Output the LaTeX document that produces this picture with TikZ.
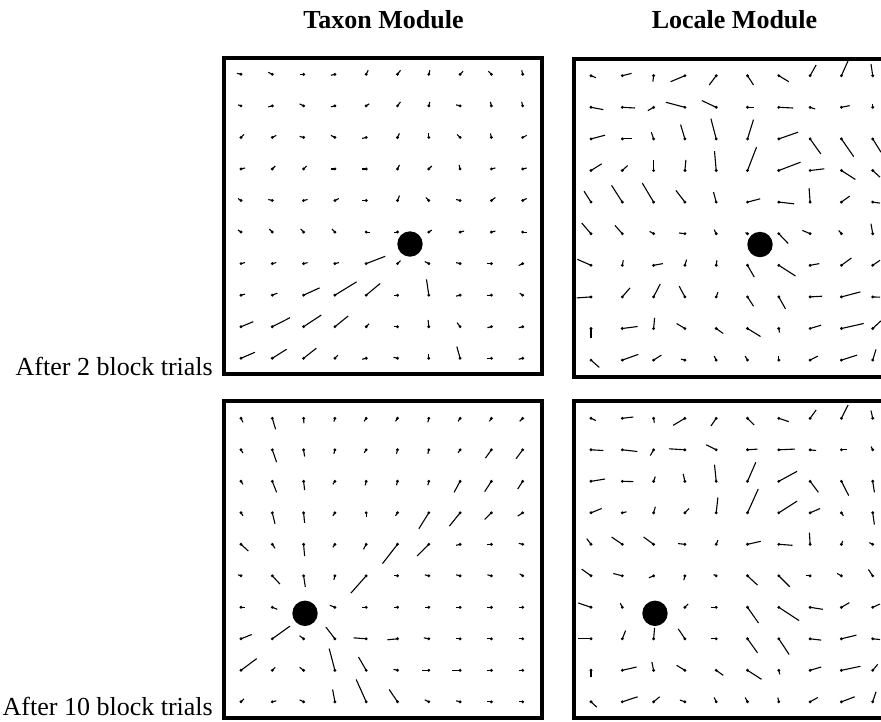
\documentclass[tikz,border=0pt]{standalone}
\usepackage{fontspec}
\setmainfont{Liberation Serif}
\usepackage{tikz}
\usetikzlibrary{positioning}
\tikzset{
    % Panel frame - thick black border
    panel/.style={
        rectangle,
        draw=black,
        line width=4pt,
        inner sep=0pt,
        minimum width=318pt,
        minimum height=317pt
    },
    % Platform marker - big black disc
    platform/.style={
        circle,
        fill=black,
        inner sep=0pt,
        minimum size=25.4pt
    },
    % Grid dot at the base of each vector
    griddot/.style={
        fill=black
    },
    % Vector line
    vecline/.style={
        draw=black,
        line width=1.1pt
    },
    % Column title
    moduletitle/.style={
        anchor=base,
        inner sep=0pt,
        font=\fontsize{26}{31}\selectfont\bfseries
    },
    % Row label
    rowlabel/.style={
        anchor=base east,
        inner sep=0pt,
        font=\fontsize{26}{31}\selectfont
    }
}

\begin{document}
\begin{tikzpicture}[x=1pt, y=-1pt]

    \clip (0,0) rectangle (881,721);

    % ========== TITLES AND LABELS ==========
    \node[moduletitle] (taxontitle) at (383.5,28) {Taxon Module};
    \node[moduletitle] (localetitle) at (734.5,28) {Locale Module};
    \node[rowlabel] (twotrials) at (213,375) {After 2 block trials};
    \node[rowlabel] (tentrials) at (213,715) {After 10 block trials};

    % ========== PANEL FRAMES ==========
    \node[panel, minimum height=316pt] (taxontop) at (383,216) {};
    \node[panel, minimum height=318pt] (localetop) at (733,218) {};
    \node[panel] (taxonbot) at (383,559) {};
    \node[panel] (localebot) at (733,559) {};

    % ========== TAXON MODULE, 2 TRIALS ==========
    \foreach \vals [count=\j] in {
        {-4/-1, -4/-2, -4/0, -4/1, 2/-4, 3/-4, 1/-4, 3/-3, -3/-3, -1/-4},
        {-3/-1, -4/1, -4/-2, -4/1, 3/-2, 3/-4, 1/-4, -4/-1, -1/-4, -1/-4},
        {3/-3, 4/-2, -4/-1, -4/-2, -4/1, 2/-4, 0/-4, -3/-3, -1/-4, 4/-2},
        {4/-1, 3/-3, 3/-3, -4/0, -4/0, 2/-4, 3/-3, -1/-4, 4/-1, 4/-1},
        {-3/-2, -4/-1, 4/-1, 4/-2, -4/0, 2/-5, -3/-3, -4/-1, 4/-3, 4/-2},
        {-3/-2, -3/-3, -3/-3, -3/-3, 4/0, -4/0, 3/-2, 4/-1, 4/-1, 4/0},
        {4/-1, 4/-1, 4/-1, 4/-1, 19/-7.3, 3/-3, -4/-2, -4/-1, -4/0, -4/2},
        {4/-1, 5/-2, 16/-7.3, 21.7/-13.3, 14/-11.7, -4/0, -2.3/-15.7, -4/1, -4/0, -3/-2},
        {12.3/-5, 17.7/-9, 17.7/-11.7, 13.3/-10.7, 3/-3, -4/0, -0.7/-6.7, -3/-4, -4/1, -4/1},
        {14/-6, 14.3/-9, 12.7/-10, 3/-3, -4/1, -4/-1, 0/-4, -3.3/-11.7, -4/0, -4/1}}{
        \foreach \dx/\dy [count=\i] in \vals {
            \coordinate (ta-\i-\j) at ({241+31.3*(\i-1)}, {74.3+31.55*(\j-1)});
            \fill[griddot] (ta-\i-\j) circle (1.6);
            \draw[vecline] (ta-\i-\j) -- ++(\dx,\dy);
        }
    }
    \node[platform] (taxongoaltop) at (410,244) {};

    % ========== LOCALE MODULE, 2 TRIALS ==========
    \foreach \vals [count=\j] in {
        {5/2, 9.3/-2.3, -0.7/6, -14.3/6, -7/9.3, 6/9.3, 10/6, 6/-10.7, 6.7/-15, -1.7/-11.7},
        {12.3/2.3, 12.7/0.7, -5.7/3.3, -19/-5, -14.3/-6.7, 6/0, 14.3/0.7, 5/1.7, 8.3/-1.7, 0/-3.3},
        {14/-3.7, 9.3/0, -2.3/-6.7, -4.3/-14.3, -5.3/-20.3, 6/-19.3, 19.3/-6.7, 10.7/15, 12.3/17.7, 8.3/13.3},
        {10.7/-6.7, 5.3/-5, 0/-11, 1/-10.7, -1.7/-19.3, 9/-23.3, 21.7/-8.3, 14.3/-1.7, 14/9, 7.3/6.7},
        {-7/-11, -10.7/-16.7, -11.3/-19, -9/-11.7, -2.7/-10, 12.7/-3.3, 15.3/1.7, -1/-14, 8.3/-6, 7.3/1},
        {-9.3/-10.7, -7.3/-8.3, -4/-2.3, -5.7/-0.7, -2/-4, -2/-1, 9.3/9.7, -7.7/-3.3, -2.7/-3.3, -1.7/-10},
        {-13.7/-6, 1/-5, 9.3/-1.7, 1.7/-5.7, 0.7/-5, 6.7/11.7, 16.7/10.7, 9.3/-1.7, 10/-7.3, 7.3/-5},
        {-14.3/1, 7.7/-9, 6.7/-13, -5.7/-10.7, 1.7/-4.7, 6/9.3, 6.7/12, 12/-0.7, 19/-5, 7.3/0.3},
        {0/9, 15.3/-2, 1/-10.7, -8.3/-5, 7/5, 13/8, 0.7/4, 11/-3.3, 22.3/-5, 8.3/-7.7},
        {8.3/7.3, 16/-5.7, 7.7/-5, -4/-1, -2/-4, -2.3/-4, 0/-4, 7.7/-4, 15.7/-5, 3.3/-10.7}}{
        \foreach \dx/\dy [count=\i] in \vals {
            \coordinate (la-\i-\j) at ({591+31.3*(\i-1)}, {75.7+31.6*(\j-1)});
            \fill[griddot] (la-\i-\j) circle (1.6);
            \draw[vecline] (la-\i-\j) -- ++(\dx,\dy);
        }
    }
    \node[platform] (localegoaltop) at (760,244.5) {};

    % ========== TAXON MODULE, 10 TRIALS ==========
    \foreach \vals [count=\j] in {
        {2/4, 3.3/11, 0.3/5, -1/3.3, -2/3, -2/3, -1/4, -2/3, -2/3, -3/3},
        {2/3.3, 4.3/12.3, 1/6.7, -1/4, -2/3, -1/4, -1/4, -2/3, -6/8.3, -6.7/9},
        {2/3, 4.3/11, 1/8.7, -2/3, -1/4, -1/4, -1/4, -6/11, -6.7/10.3, -5/7.7},
        {2/3, 2.7/11, 1/10, -2/3, 0/4, -2/3, -10/16, -10.7/13.3, -6.7/6.7, -5/3.3},
        {7.3/6.7, 2.7/4, 1/11.7, -2/3, -2.7/5, -15/19.3, -11.7/11.7, -4/1, -4/0, -4/-1},
        {-3/-1, 7.7/8.3, 1.7/11, -1/4, -15.3/17.3, -4/0, -4/-1, -4/-1, -4/-1, -3/-2},
        {4/0, 5/2, 0/0, -5/-2, -4/0, -4/0, -4/0, -4/0, -4/0, -4/0},
        {10.7/-4.3, 17.7/-12.7, -4/-3, -9/-11.7, -12.7/-1, -10/1, -5/-1, -4/0, -4/0, -4/0},
        {15.7/-11.7, 3/-3, -4/-3, -5.7/-21.7, -7.7/-13.3, -4/-1, -7/0, -7.7/0, -4/0, -4/0},
        {3/-3, 4/-1, -4/-2, -2.3/-12.3, -10/-22.3, -8.3/-12.3, -4/-2, -4/-1, -4/0, -4/0}}{
        \foreach \dx/\dy [count=\i] in \vals {
            \coordinate (tb-\i-\j) at ({241+31.3*(\i-1)}, {418.3+31.5*(\j-1)});
            \fill[griddot] (tb-\i-\j) circle (1.6);
            \draw[vecline] (tb-\i-\j) -- ++(\dx,\dy);
        }
    }
    \node[platform] (taxongoalbot) at (305,613.3) {};

    % ========== LOCALE MODULE, 10 TRIALS ==========
    \foreach \vals [count=\j] in {
        {5/2.3, 11/-1.3, 0.7/4.3, -11.7/7, -5.3/7.7, 6.7/6.7, 10/3.3, 6/-8.3, 6.7/-13.3, -1.7/-7.7},
        {12.3/0.7, 15/1.7, -3.3/5.7, -16/-1, -10/-5, 10/-0.7, 16/-0.7, 6/0.7, 5.7/0, -1.7/-3.3},
        {14/-2.3, 11/0.3, 1.7/-4.7, -1.7/-7.3, -1.7/-16.7, 8.3/-19, 18.3/-10, 8.3/11, 7.3/14.3, 1.7/11},
        {10.7/-4.3, 4.3/-1, 1.7/-6, 4.3/-4.3, 1.7/-15.3, 10.7/-23.7, 18.3/-11.7, 10/-4.3, 2/3, 1.7/11.7},
        {-4.3/-5.7, -10.7/-7.3, -10/-7.3, -6.7/-0.7, 1.7/-4, 13.3/-3, 13.7/1, -0.7/-11.7, 1.3/-3.3, -3.3/-1.7},
        {-9.3/-6.7, -9/-2.3, -4.7/2, -1/4.3, -2.7/-1.3, 10/9.3, 11/11, -4/0, -4.3/-2.3, -4.3/-6.3},
        {-12.7/-4.3, -2/-4, 0/0, 3.3/-3.3, -5/0, 11/15.7, 20.3/13.3, 12.7/2, 8/-4.7, 7.3/-3.3},
        {-12.7/0, 3.3/-8.3, 1/-11, -6.7/-10, -5/0, 10/14, 10.3/15.7, 11/1.3, 15/-3.7, 7.3/0.7},
        {0/6.7, 14.3/-3.3, -1.7/-8.3, -8.3/-5, 7/5, 14/9, 1/4, 11/-3.3, 19/-4, 5/-6},
        {5.7/5.3, 15.3/-5, 6/-5, -5/-1.7, -2/-4.3, -2.3/-4.3, -1/-4.3, 7.7/-4.3, 13.3/-5, 3.3/-10}}{
        \foreach \dx/\dy [count=\i] in \vals {
            \coordinate (lb-\i-\j) at ({591+31.3*(\i-1)}, {418.3+31.5*(\j-1)});
            \fill[griddot] (lb-\i-\j) circle (1.6);
            \draw[vecline] (lb-\i-\j) -- ++(\dx,\dy);
        }
    }
    \node[platform] (localegoalbot) at (655,613.3) {};

\end{tikzpicture}
\end{document}
